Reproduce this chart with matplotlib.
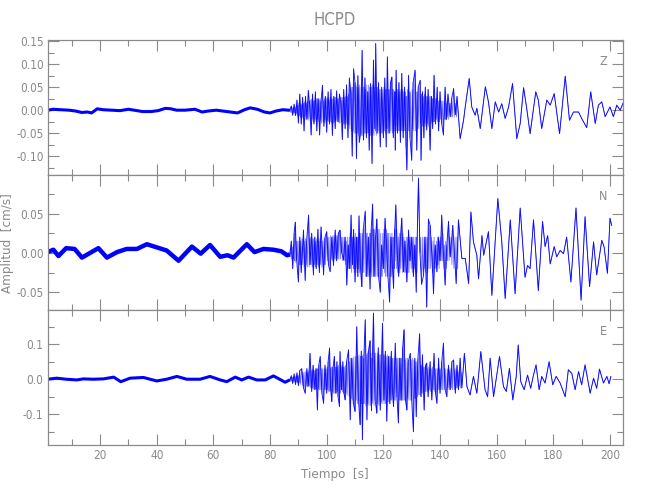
import matplotlib
matplotlib.use("Agg")
import matplotlib.pyplot as plt
from matplotlib.ticker import MultipleLocator, FormatStrFormatter
import numpy as np

# ---------------- data ----------------
title = "HCPD"
components = ["Z", "N", "E"]
x_ticks = [20, 40, 60, 80, 100, 120, 140, 160, 180, 200]

# quiet (pre-event) part: slow drift of the noise band
z_quiet_t = [1.5, 3.5, 6.0, 9.0, 11.5, 13.5, 15.5, 17.0, 19.0, 21.0, 24.0, 27.0, 30.0, 32.0, 35.0,
             38.0, 40.5, 43.0, 45.0, 47.0, 50.0, 53.5, 56.0, 58.0, 61.0, 63.5, 66.0, 68.5, 71.0,
             73.0, 75.5, 78.0, 80.0, 82.0, 84.5, 86.5]
z_quiet_v = [0.000, 0.002, 0.001, 0.000, -0.002, -0.005, -0.004, -0.006, 0.003, 0.001, 0.000, -0.001,
             0.002, 0.000, -0.003, -0.003, -0.001, 0.004, 0.003, 0.000, 0.000, 0.002, -0.004, -0.002,
             0.000, -0.002, -0.004, -0.006, 0.001, 0.005, 0.002, -0.004, -0.006, -0.002, 0.001, 0.000]

n_quiet_t = [1.5, 3.5, 5.3, 8.0, 11.0, 13.6, 16.0, 19.4, 22.4, 26.0, 29.4, 33.0, 36.5, 40.0, 43.5,
             47.7, 52.4, 55.5, 58.8, 62.4, 65.0, 67.1, 71.8, 74.5, 77.7, 81.2, 84.0, 86.0]
n_quiet_v = [0.001, 0.004, -0.004, 0.006, 0.005, -0.006, -0.001, 0.006, -0.006, 0.001, 0.005, 0.005,
             0.011, 0.007, 0.003, -0.010, 0.008, -0.001, 0.010, -0.005, -0.003, -0.006, 0.011, 0.001,
             0.005, 0.004, 0.002, -0.003]

e_quiet_t = [1.5, 4.7, 8.0, 11.8, 14.1, 17.6, 21.2, 24.8, 27.3, 30.6, 35.3, 40.0, 43.5, 47.1, 50.6,
             55.3, 58.8, 62.4, 64.7, 67.7, 70.0, 72.4, 75.3, 78.3, 81.2, 85.3]
e_quiet_v = [0.000, 0.003, 0.000, -0.002, 0.001, 0.000, 0.001, 0.006, -0.007, 0.003, 0.005, -0.005,
             0.000, 0.008, 0.000, 0.000, 0.008, -0.002, -0.007, 0.006, -0.002, 0.006, -0.002, -0.002,
             0.0095, -0.0085]

# strong-motion part: successive peaks and troughs
z_t = [87.0, 87.5, 88.0, 88.5, 89.0, 89.5, 90.0, 90.5, 91.0, 91.5, 92.0, 92.5, 93.0, 93.5, 94.0, 94.5,
       95.0, 95.5, 96.0, 96.5, 97.0, 97.5, 98.0, 98.5, 99.0, 99.5, 100.0, 100.5, 101.0, 101.5, 102.0,
       102.5, 103.0, 103.5, 104.0, 104.5, 105.0, 105.5, 106.0, 106.5, 107.0, 107.5, 108.0, 108.5,
       109.0, 109.5, 110.0, 110.5, 111.0, 111.5, 112.0, 112.5, 113.0, 113.5, 114.0, 114.5, 115.0,
       115.5, 116.0, 116.5, 117.0, 117.3, 117.8, 118.3, 118.9, 119.4, 120.0, 120.5, 121.0, 121.4,
       122.0, 122.5, 123.0, 123.5, 124.0, 124.2, 124.5, 125.0, 125.5, 126.0, 126.5, 127.0, 127.5,
       128.0, 128.3, 128.9, 129.4, 130.0, 130.5, 131.2, 131.8, 132.3, 133.0, 133.3, 133.8, 134.3,
       134.8, 135.3, 135.8, 136.5, 137.0, 137.4, 137.9, 138.4, 139.0, 139.5, 140.0, 140.6, 141.2,
       141.8, 142.3, 142.8, 143.6, 144.1, 144.8, 145.4, 146.0, 147.1, 148.3, 148.9, 150.3, 151.2,
       152.4, 153.0, 154.2, 156.0, 157.1, 158.3, 159.5, 160.7, 161.8, 163.0, 164.2, 165.6, 167.1,
       168.3, 169.5, 170.6, 171.8, 173.8, 174.7, 175.9, 177.7, 178.9, 180.3, 182.2, 184.2, 185.7,
       187.1, 188.9, 190.0, 191.8, 193.2, 194.8, 195.9, 197.1, 198.3, 200.0, 201.2, 202.4, 203.6,
       204.8]
z_v = [0.000, 0.009, -0.011, 0.013, -0.012, 0.022, -0.028, 0.035, -0.030, 0.028, -0.045, 0.030,
       -0.020, 0.043, 0.010, -0.054, 0.035, -0.030, 0.040, -0.045, 0.025, -0.054, 0.020, 0.054,
       -0.035, 0.030, -0.048, 0.040, -0.030, 0.045, -0.055, 0.030, -0.040, 0.042, -0.025, 0.035,
       0.020, -0.064, 0.045, -0.040, 0.055, -0.060, 0.070, 0.040, -0.100, 0.090, 0.060, -0.105,
       0.075, -0.070, -0.050, 0.130, -0.065, 0.070, -0.060, 0.040, -0.087, 0.058, -0.116, 0.109,
       -0.040, 0.145, -0.050, 0.060, -0.080, 0.050, -0.060, 0.070, -0.080, 0.116, -0.050, 0.060,
       0.072, -0.060, 0.040, -0.087, 0.087, -0.050, 0.060, -0.070, 0.080, -0.060, 0.050, -0.080,
       -0.130, 0.076, -0.060, -0.109, 0.060, 0.087, -0.087, 0.050, 0.065, -0.109, 0.040, -0.060,
       0.050, -0.043, 0.045, -0.087, 0.030, -0.040, 0.076, -0.030, 0.050, -0.045, 0.040, -0.030,
       -0.054, 0.050, -0.020, 0.035, -0.014, 0.025, 0.047, -0.010, 0.030, -0.062, -0.022, 0.007,
       0.069, 0.007, -0.011, 0.004, -0.040, 0.051, 0.018, -0.040, 0.018, -0.004, 0.014, -0.018,
       0.007, 0.058, -0.062, -0.029, 0.049, 0.004, -0.051, 0.040, 0.022, -0.040, 0.022, 0.011,
       0.036, -0.051, 0.074, -0.022, -0.004, -0.004, -0.018, -0.038, 0.040, -0.029, 0.011, 0.018,
       -0.014, 0.007, -0.014, 0.011, 0.000, 0.018]

# smaller wiggles that fill the strong-motion band (time, value)
z_fill = [(87.17, -0.005), (87.33, 0.004), (87.67, -0.006), (87.83, 0.005), (88.17, 0.006),
          (88.33, -0.005), (88.67, -0.007), (88.83, 0.006), (89.17, 0.008), (89.33, -0.008),
          (89.67, -0.012), (89.83, 0.010), (90.17, 0.015), (90.33, -0.012), (90.67, -0.015),
          (90.83, 0.014), (91.17, 0.012), (91.33, -0.016), (91.67, -0.018), (91.83, 0.015),
          (92.17, 0.018), (92.33, -0.014), (92.67, -0.020), (92.83, 0.016), (93.17, 0.020),
          (93.33, -0.018), (93.67, -0.022), (93.83, 0.020), (94.17, -0.018), (94.33, 0.022),
          (94.67, 0.024), (94.83, -0.020), (95.17, -0.025), (95.33, 0.020), (95.67, 0.022),
          (95.83, -0.025), (96.17, -0.020), (96.33, 0.025), (96.67, 0.025), (96.83, -0.020),
          (97.17, -0.025), (97.33, 0.022), (97.67, 0.025), (97.83, -0.022), (98.17, -0.028),
          (98.33, 0.022), (98.67, -0.025), (98.83, 0.020), (99.17, 0.025), (99.33, -0.028),
          (99.67, -0.022), (99.83, 0.025), (100.17, 0.028), (100.33, -0.022), (100.67, -0.025),
          (100.83, 0.022), (101.17, 0.028), (101.33, -0.025), (101.67, -0.028), (101.83, 0.025),
          (102.17, 0.025), (102.33, -0.028), (102.67, -0.025), (102.83, 0.028), (103.17, 0.028),
          (103.33, -0.022), (103.67, -0.025), (103.83, 0.025), (104.17, 0.025), (104.33, -0.028),
          (104.67, -0.028), (104.83, 0.022), (105.17, -0.025), (105.33, 0.028), (105.67, 0.028),
          (105.83, -0.030), (106.17, -0.030), (106.33, 0.028), (106.67, 0.030), (106.83, -0.028),
          (107.17, -0.032), (107.33, 0.030), (107.67, 0.035), (107.83, -0.032), (108.17, -0.040),
          (108.33, 0.045), (108.67, -0.045), (108.83, 0.050), (109.17, 0.050), (109.33, -0.045),
          (109.67, -0.050), (109.83, 0.045), (110.17, -0.050), (110.33, 0.055), (110.67, 0.050),
          (110.83, -0.050), (111.17, -0.055), (111.33, 0.050), (111.67, 0.055), (111.83, -0.045),
          (112.17, 0.050), (112.33, -0.055), (112.67, -0.055), (112.83, 0.050), (113.17, 0.050),
          (113.33, -0.050), (113.67, -0.050), (113.83, 0.045), (114.17, 0.055), (114.33, -0.050),
          (114.67, -0.050), (114.83, 0.055), (115.17, 0.050), (115.33, -0.055), (115.67, -0.055),
          (115.83, 0.050), (116.17, 0.055), (116.33, -0.050), (116.67, -0.055), (116.83, 0.050),
          (117.10, 0.040), (117.20, -0.045), (117.47, -0.055), (117.63, 0.050), (117.97, 0.050),
          (118.13, -0.045), (118.50, -0.050), (118.70, 0.045), (119.07, 0.045), (119.23, -0.050),
          (119.60, -0.050), (119.80, 0.045), (120.17, 0.050), (120.33, -0.045), (120.67, -0.050),
          (120.83, 0.045), (121.13, 0.045), (121.27, -0.040), (121.60, -0.050), (121.80, 0.045),
          (122.17, 0.045), (122.33, -0.050), (122.67, -0.045), (122.83, 0.040), (123.17, -0.050),
          (123.33, 0.045), (123.67, 0.045), (123.83, -0.045), (124.07, -0.030), (124.13, 0.030),
          (124.30, 0.040), (124.40, -0.035), (124.67, -0.045), (124.83, 0.045), (125.17, 0.045),
          (125.33, -0.045), (125.67, -0.045), (125.83, 0.040), (126.17, 0.045), (126.33, -0.045),
          (126.67, -0.045), (126.83, 0.045), (127.17, 0.040), (127.33, -0.045), (127.67, -0.045),
          (127.83, 0.040), (128.10, 0.030), (128.20, -0.040), (128.50, 0.045), (128.70, -0.045),
          (129.07, -0.045), (129.23, 0.040), (129.60, 0.040), (129.80, -0.045), (130.17, 0.045),
          (130.33, -0.040), (130.73, -0.045), (130.97, 0.040), (131.40, -0.045), (131.60, 0.040),
          (131.97, 0.040), (132.13, -0.040), (132.53, -0.040), (132.77, 0.035), (133.10, -0.030),
          (133.20, 0.030), (133.47, 0.035), (133.63, -0.035), (133.97, -0.035), (134.13, 0.030),
          (134.47, 0.035), (134.63, -0.030), (134.97, -0.035), (135.13, 0.030), (135.47, 0.030),
          (135.63, -0.030), (136.03, -0.035), (136.27, 0.030), (136.67, 0.030), (136.83, -0.030),
          (137.13, -0.025), (137.27, 0.025), (137.57, 0.025), (137.73, -0.025), (138.07, -0.025),
          (138.23, 0.025), (138.60, 0.025), (138.80, -0.020), (139.17, -0.025), (139.33, 0.020),
          (139.67, 0.020), (139.83, -0.025), (140.20, -0.020), (140.40, 0.020), (140.80, 0.020),
          (141.00, -0.020), (141.40, 0.020), (141.60, -0.020), (141.97, -0.020), (142.13, 0.015),
          (142.47, 0.020), (142.63, -0.015), (143.07, -0.020), (143.33, 0.015), (143.77, 0.015),
          (143.93, -0.015), (144.33, -0.015), (144.57, 0.020), (145.00, -0.015), (145.20, 0.015),
          (145.60, 0.015), (145.80, -0.015)]

n_t = [87.0, 87.5, 88.0, 88.5, 88.9, 89.4, 90.0, 90.5, 91.0, 91.8, 92.4, 92.9, 93.6, 94.1, 94.7,
       95.3, 95.8, 96.3, 96.9, 97.4, 98.0, 98.9, 99.4, 100.0, 100.6, 101.2, 101.8, 102.4, 103.0,
       103.5, 104.1, 104.7, 105.3, 105.9, 106.5, 107.1, 107.6, 108.1, 108.6, 109.1, 109.5, 110.0,
       110.5, 111.0, 111.4, 111.9, 112.4, 112.9, 113.6, 114.1, 114.7, 115.3, 115.7, 116.2, 116.7,
       117.2, 117.7, 118.3, 118.9, 119.4, 120.0, 120.6, 121.1, 121.6, 122.2, 122.7, 123.2, 123.6,
       124.0, 124.4, 124.9, 125.4, 126.0, 126.5, 127.1, 127.6, 128.3, 128.9, 129.4, 130.0, 130.6,
       131.1, 131.6, 132.0, 132.4, 132.9, 133.5, 134.2, 134.7, 135.3, 135.9, 136.5, 137.1, 137.7,
       138.3, 138.9, 139.5, 140.0, 140.6, 141.2, 141.8, 142.4, 143.0, 143.6, 144.5, 145.7, 146.5,
       147.7, 148.9, 150.1, 150.9, 151.8, 153.0, 153.6, 154.8, 155.4, 157.1, 158.3, 160.4, 161.8,
       163.0, 164.8, 166.5, 168.3, 170.0, 170.9, 171.8, 173.0, 174.7, 176.2, 177.1, 178.0, 178.9,
       180.3, 181.2, 182.4, 183.6, 184.7, 186.2, 188.0, 189.8, 191.2, 192.8, 194.2, 195.3, 197.1,
       197.9, 199.1, 200.0, 200.6]
n_v = [-0.002, 0.015, -0.020, 0.025, 0.039, -0.010, -0.037, 0.020, -0.025, 0.029, -0.035, 0.015,
       0.048, -0.015, 0.025, -0.028, 0.020, -0.020, 0.030, -0.025, 0.033, -0.028, 0.020, 0.027,
       -0.015, -0.024, 0.020, -0.016, 0.029, -0.010, 0.025, 0.029, 0.000, -0.009, 0.020, -0.041,
       0.010, -0.020, 0.048, -0.015, 0.030, -0.037, 0.020, -0.030, 0.047, -0.020, -0.043, 0.030,
       0.053, -0.030, 0.020, -0.046, 0.030, 0.062, -0.030, 0.020, 0.043, -0.030, -0.050, 0.010,
       -0.020, 0.044, 0.010, -0.030, -0.0625, 0.020, -0.020, -0.045, 0.030, 0.061, 0.000, -0.030,
       0.020, 0.044, -0.024, 0.015, -0.037, 0.029, -0.010, 0.020, -0.030, 0.010, -0.050, 0.030,
       0.095, 0.000, -0.040, -0.028, 0.020, -0.069, 0.043, 0.035, 0.000, -0.052, 0.010, -0.024,
       0.020, -0.010, 0.048, 0.000, -0.041, 0.010, 0.040, -0.005, 0.035, -0.039, 0.042, -0.007,
       -0.007, -0.039, 0.052, 0.014, -0.003, -0.033, 0.022, -0.003, 0.027, -0.054, 0.069, 0.014,
       -0.058, 0.042, -0.052, 0.057, -0.031, -0.016, -0.020, 0.042, -0.048, 0.040, 0.008, 0.022,
       -0.014, 0.008, -0.005, 0.003, -0.001, 0.020, -0.037, 0.057, -0.060, 0.046, -0.043, 0.014,
       -0.028, 0.016, 0.008, -0.026, 0.044, 0.035]

n_fill = [(87.17, 0.006), (87.33, -0.005), (87.67, -0.008), (87.83, 0.007), (88.17, 0.010),
          (88.33, -0.008), (88.63, -0.010), (88.77, 0.012), (89.07, -0.012), (89.23, 0.015),
          (89.60, 0.015), (89.80, -0.012), (90.17, 0.015), (90.33, -0.015), (90.67, -0.015),
          (90.83, 0.015), (91.27, 0.018), (91.53, -0.015), (92.00, -0.018), (92.20, 0.015),
          (92.57, 0.018), (92.73, -0.015), (93.13, -0.018), (93.37, 0.020), (93.77, -0.018),
          (93.93, 0.018), (94.30, 0.020), (94.50, -0.015), (94.90, -0.018), (95.10, 0.018),
          (95.47, 0.018), (95.63, -0.015), (95.97, -0.018), (96.13, 0.015), (96.50, 0.018),
          (96.70, -0.015), (97.07, -0.018), (97.23, 0.015), (97.60, 0.018), (97.80, -0.015),
          (98.30, -0.018), (98.60, 0.015), (99.07, 0.018), (99.23, -0.015), (99.60, -0.015),
          (99.80, 0.018), (100.20, -0.010), (100.40, 0.020), (100.80, 0.020), (101.00, -0.010),
          (101.40, 0.022), (101.60, -0.008), (102.00, -0.010), (102.20, 0.022), (102.60, 0.022),
          (102.80, -0.008), (103.17, -0.008), (103.33, 0.022), (103.70, 0.022), (103.90, -0.008),
          (104.30, -0.008), (104.50, 0.022), (104.90, -0.008), (105.10, 0.020), (105.50, 0.020),
          (105.70, -0.010), (106.10, 0.020), (106.30, -0.010), (106.70, -0.015), (106.90, 0.015),
          (107.27, 0.020), (107.43, -0.020), (107.77, -0.020), (107.93, 0.020), (108.27, 0.025),
          (108.43, -0.020), (108.77, -0.025), (108.93, 0.020), (109.23, 0.020), (109.37, -0.020),
          (109.67, -0.025), (109.83, 0.020), (110.17, 0.025), (110.33, -0.020), (110.67, -0.025),
          (110.83, 0.020), (111.13, 0.020), (111.27, -0.020), (111.57, -0.025), (111.73, 0.025),
          (112.07, 0.025), (112.23, -0.020), (112.57, 0.025), (112.73, -0.025), (113.13, -0.025),
          (113.37, 0.025), (113.77, -0.030), (113.93, 0.025), (114.30, 0.025), (114.50, -0.030),
          (114.90, -0.030), (115.10, 0.025), (115.43, 0.025), (115.57, -0.025), (115.87, -0.030),
          (116.03, 0.030), (116.37, -0.030), (116.53, 0.030), (116.87, 0.030), (117.03, -0.030),
          (117.37, -0.030), (117.53, 0.030), (117.90, -0.030), (118.10, 0.030), (118.50, 0.030),
          (118.70, -0.030), (119.07, 0.025), (119.23, -0.030), (119.60, -0.030), (119.80, 0.025),
          (120.20, 0.030), (120.40, -0.025), (120.77, -0.030), (120.93, 0.030), (121.27, -0.030),
          (121.43, 0.025), (121.80, 0.025), (122.00, -0.030), (122.37, 0.025), (122.53, -0.030),
          (122.87, -0.030), (123.03, 0.025), (123.33, 0.020), (123.47, -0.025), (123.73, 0.020),
          (123.87, -0.020), (124.13, -0.010), (124.27, 0.030), (124.57, -0.020), (124.73, 0.030),
          (125.07, -0.025), (125.23, 0.020), (125.60, 0.025), (125.80, -0.025), (126.17, -0.020),
          (126.33, 0.025), (126.70, -0.025), (126.90, 0.025), (127.27, 0.020), (127.43, -0.025),
          (127.83, -0.025), (128.07, 0.020), (128.50, 0.020), (128.70, -0.025), (129.07, -0.025),
          (129.23, 0.020), (129.60, 0.020), (129.80, -0.020), (130.20, -0.025), (130.40, 0.020),
          (130.77, 0.020), (130.93, -0.020), (131.27, -0.025), (131.43, 0.020), (131.73, 0.020),
          (131.87, -0.025), (133.10, 0.020), (133.30, -0.020), (133.73, 0.020), (133.97, -0.020),
          (134.37, 0.020), (134.53, -0.020), (134.90, -0.025), (135.10, 0.020), (135.50, 0.020),
          (135.70, -0.025), (136.10, -0.020), (136.30, 0.025), (136.70, -0.020), (136.90, 0.020),
          (137.30, -0.025), (137.50, 0.015), (137.90, 0.020), (138.10, -0.020), (138.50, -0.020),
          (138.70, 0.015), (139.10, 0.020), (139.30, -0.015), (139.67, -0.020), (139.83, 0.015),
          (140.20, 0.020), (140.40, -0.010), (140.80, -0.010), (141.00, 0.025), (141.40, -0.020),
          (141.60, 0.010), (142.00, 0.015), (142.20, -0.020), (142.60, -0.010), (142.80, 0.020),
          (143.20, -0.010), (143.40, 0.020), (143.90, 0.020), (144.20, -0.015), (144.90, -0.020),
          (145.30, 0.020), (145.97, 0.020), (146.23, -0.020)]

e_t = [87.0, 87.5, 88.0, 88.5, 89.0, 89.5, 90.0, 90.5, 91.2, 91.8, 92.4, 93.0, 93.5, 94.1, 94.7,
       95.2, 95.8, 96.2, 96.7, 97.2, 97.7, 98.3, 98.9, 99.4, 100.0, 100.5, 101.0, 101.4, 101.8,
       102.2, 102.7, 103.2, 103.6, 104.0, 104.5, 104.7, 105.2, 105.7, 106.1, 106.5, 107.0, 107.7,
       108.3, 108.8, 109.4, 110.0, 110.6, 111.2, 111.8, 112.2, 112.6, 113.1, 113.6, 114.2, 114.7,
       115.3, 115.8, 116.1, 116.5, 117.1, 117.7, 118.2, 118.9, 119.3, 119.7, 120.2, 120.7, 121.2,
       121.8, 122.3, 122.8, 123.2, 123.6, 124.2, 124.8, 125.3, 125.8, 126.3, 126.8, 127.3, 127.8,
       128.3, 128.8, 129.5, 130.0, 130.6, 131.1, 131.6, 132.2, 132.8, 133.3, 133.8, 134.4, 134.9,
       135.3, 135.8, 136.5, 137.1, 137.9, 138.4, 138.9, 139.5, 140.0, 140.6, 141.2, 141.8, 142.4,
       143.0, 143.6, 144.2, 144.8, 145.4, 146.0, 146.5, 147.1, 147.7, 148.6, 149.5, 150.6, 151.8,
       153.0, 154.4, 155.9, 156.8, 157.7, 158.9, 161.0, 162.4, 163.4, 164.5, 165.7, 166.9, 167.6,
       168.5, 169.7, 170.9, 172.0, 173.0, 173.9, 175.0, 175.9, 177.1, 178.5, 179.8, 181.0, 182.4,
       184.2, 185.3, 186.5, 187.7, 188.9, 190.0, 191.2, 193.0, 194.2, 195.3, 196.3, 197.7, 198.9,
       199.7, 200.3]
e_v = [-0.002, 0.010, -0.012, 0.015, -0.015, 0.018, -0.018, 0.025, 0.030, -0.025, -0.040, 0.030,
       -0.020, 0.074, -0.035, 0.040, -0.030, 0.030, -0.088, 0.040, 0.065, -0.040, -0.069, 0.040,
       -0.040, 0.050, 0.089, -0.030, -0.064, 0.030, 0.065, -0.040, 0.050, -0.050, -0.078, 0.079,
       -0.030, 0.050, -0.040, -0.059, 0.050, 0.084, -0.116, 0.060, -0.070, -0.092, 0.150, -0.060,
       -0.130, 0.080, -0.173, 0.060, 0.170, -0.116, 0.080, 0.110, -0.090, 0.060, 0.189, -0.060,
       -0.097, 0.090, -0.088, 0.050, 0.160, -0.060, 0.080, -0.120, 0.065, -0.070, 0.080, -0.040,
       -0.078, 0.103, -0.050, -0.125, 0.060, -0.060, 0.090, 0.141, -0.060, -0.088, 0.050, 0.074,
       -0.060, -0.150, 0.060, -0.107, 0.060, 0.130, -0.050, 0.070, -0.088, 0.040, 0.046, -0.050,
       0.050, -0.059, 0.074, -0.040, -0.069, 0.060, -0.040, 0.050, 0.103, -0.030, -0.050, 0.040,
       -0.030, 0.050, 0.055, -0.040, 0.040, -0.030, 0.060, -0.025, 0.074, -0.021, -0.045, 0.008,
       -0.040, 0.079, -0.030, -0.050, 0.060, -0.050, 0.065, -0.021, -0.035, 0.031, -0.059, 0.008,
       0.098, -0.007, -0.030, 0.012, -0.026, 0.012, 0.041, -0.030, 0.008, -0.011, 0.050, -0.016,
       0.008, -0.011, -0.050, 0.027, 0.017, -0.030, 0.022, -0.016, 0.041, -0.040, 0.003, -0.026,
       0.029, -0.011, 0.008, -0.013, 0.008]

e_fill = [(87.17, 0.005), (87.33, -0.005), (87.67, -0.006), (87.83, 0.006), (88.17, 0.007),
          (88.33, -0.006), (88.67, -0.008), (88.83, 0.007), (89.17, 0.009), (89.33, -0.008),
          (89.67, -0.010), (89.83, 0.009), (90.17, 0.012), (90.33, -0.010), (90.73, -0.015),
          (90.97, 0.015), (91.40, -0.018), (91.60, 0.018), (92.00, 0.020), (92.20, -0.018),
          (92.60, 0.022), (92.80, -0.020), (93.17, -0.022), (93.33, 0.020), (93.70, 0.025),
          (93.90, -0.020), (94.30, -0.025), (94.50, 0.025), (94.87, 0.028), (95.03, -0.025),
          (95.40, -0.028), (95.60, 0.025), (95.93, 0.025), (96.07, -0.028), (96.37, -0.028),
          (96.53, 0.030), (96.87, 0.030), (97.03, -0.028), (97.37, -0.030), (97.53, 0.028),
          (97.90, -0.030), (98.10, 0.030), (98.50, 0.030), (98.70, -0.030), (99.07, 0.030),
          (99.23, -0.030), (99.60, -0.030), (99.80, 0.030), (100.17, 0.035), (100.33, -0.030),
          (100.67, -0.035), (100.83, 0.035), (101.13, -0.035), (101.27, 0.030), (101.53, 0.035),
          (101.67, -0.035), (101.93, 0.035), (102.07, -0.035), (102.37, -0.040), (102.53, 0.035),
          (102.87, -0.040), (103.03, 0.035), (103.33, 0.035), (103.47, -0.040), (103.73, -0.035),
          (103.87, 0.035), (104.17, 0.040), (104.33, -0.035), (104.87, -0.040), (105.03, 0.035),
          (105.37, 0.040), (105.53, -0.035), (105.83, -0.040), (105.97, 0.035), (106.23, 0.035),
          (106.37, -0.040), (106.67, 0.040), (106.83, -0.040), (107.23, -0.045), (107.47, 0.045),
          (107.90, -0.050), (108.10, 0.050), (108.47, 0.060), (108.63, -0.055), (109.00, -0.060),
          (109.20, 0.060), (109.60, 0.065), (109.80, -0.060), (110.20, 0.065), (110.40, -0.060),
          (110.80, -0.070), (111.00, 0.065), (111.40, 0.070), (111.60, -0.065), (111.93, 0.065),
          (112.07, -0.070), (112.33, -0.070), (112.47, 0.065), (112.77, 0.070), (112.93, -0.070),
          (113.27, -0.070), (113.43, 0.070), (113.80, -0.075), (114.00, 0.070), (114.37, 0.075),
          (114.53, -0.070), (114.90, -0.075), (115.10, 0.070), (115.47, -0.075), (115.63, 0.075),
          (115.90, 0.060), (116.00, -0.060), (116.23, -0.070), (116.37, 0.070), (116.70, -0.075),
          (116.90, 0.075), (117.30, 0.075), (117.50, -0.070), (117.87, 0.075), (118.03, -0.070),
          (118.43, -0.075), (118.67, 0.070), (119.03, 0.070), (119.17, -0.070), (119.43, -0.065),
          (119.57, 0.070), (119.87, -0.070), (120.03, 0.070), (120.37, 0.070), (120.53, -0.070),
          (120.87, -0.070), (121.03, 0.065), (121.40, 0.070), (121.60, -0.065), (121.97, -0.065),
          (122.13, 0.065), (122.47, 0.065), (122.63, -0.060), (122.93, -0.060), (123.07, 0.060),
          (123.33, 0.060), (123.47, -0.055), (123.80, 0.060), (124.00, -0.060), (124.40, -0.060),
          (124.60, 0.060), (124.97, 0.060), (125.13, -0.060), (125.47, 0.060), (125.63, -0.060),
          (125.97, -0.060), (126.13, 0.060), (126.47, 0.060), (126.63, -0.060), (126.97, -0.060),
          (127.13, 0.060), (127.47, -0.060), (127.63, 0.055), (127.97, 0.060), (128.13, -0.055),
          (128.47, 0.060), (128.63, -0.055), (129.03, -0.060), (129.27, 0.055), (129.67, -0.060),
          (129.83, 0.055), (130.20, 0.060), (130.40, -0.055), (130.77, 0.055), (130.93, -0.055),
          (131.27, -0.055), (131.43, 0.050), (131.80, 0.050), (132.00, -0.050), (132.40, -0.045),
          (132.60, 0.045), (132.97, -0.045), (133.13, 0.040), (133.47, 0.040), (133.63, -0.040),
          (134.00, -0.040), (134.20, 0.035), (134.57, 0.035), (134.73, -0.035), (135.03, -0.035),
          (135.17, 0.030), (135.47, -0.035), (135.63, 0.030), (136.03, 0.035), (136.27, -0.030),
          (136.70, -0.035), (136.90, 0.030), (137.37, 0.035), (137.63, -0.030), (138.07, -0.035),
          (138.23, 0.030), (138.57, 0.030), (138.73, -0.030), (139.10, 0.030), (139.30, -0.030),
          (139.67, -0.030), (139.83, 0.030), (140.20, 0.030), (140.40, -0.030), (140.80, -0.030),
          (141.00, 0.030), (141.40, -0.030), (141.60, 0.030), (142.00, 0.030), (142.20, -0.025),
          (142.60, 0.030), (142.80, -0.025), (143.20, -0.030), (143.40, 0.025), (143.80, 0.030),
          (144.00, -0.025), (144.40, -0.030), (144.60, 0.025), (145.00, -0.030), (145.20, 0.025),
          (145.60, 0.030), (145.80, -0.025), (146.17, -0.025), (146.33, 0.020), (146.70, 0.025),
          (146.90, -0.020), (147.30, -0.025), (147.50, 0.020)]

y_limits = [(-0.141, 0.152), (-0.073, 0.099), (-0.188, 0.197)]
y_major = [0.05, 0.05, 0.1]
y_minor = [0.025, 0.025, 0.05]
y_fmt = ["%.2f", "%.2f", "%.1f"]
quiet_lw = [2.2, 3.2, 2.2]

# ---------------- figure ----------------
plt.rcParams['font.family'] = ['DejaVu Sans']
plt.rcParams['font.stretch'] = 'condensed'
plt.rcParams['axes.unicode_minus'] = True
grey = '#8a8a8a'
blue = '#0000ff'

fig = plt.figure(figsize=(6.5, 5.0), dpi=100)
W, H = 650.0, 500.0
left, right = 47.7, 623.3
tops = [40.3, 175.0, 310.3]
bots = [175.0, 310.3, 445.0]

series = [(z_quiet_t, z_quiet_v, z_t, z_v, z_fill),
          (n_quiet_t, n_quiet_v, n_t, n_v, n_fill),
          (e_quiet_t, e_quiet_v, e_t, e_v, e_fill)]

axes = []
for i in range(3):
    ax = fig.add_axes([left / W, 1 - bots[i] / H, (right - left) / W, (bots[i] - tops[i]) / H])
    axes.append(ax)
    qt, qv, at, av, fill = series[i]
    t_all = np.concatenate([np.asarray(at), np.array([p[0] for p in fill])])
    v_all = np.concatenate([np.asarray(av), np.array([p[1] for p in fill])])
    order = np.argsort(t_all, kind='stable')
    ax.plot(qt + at[:1], qv + av[:1], color=blue, lw=quiet_lw[i], solid_capstyle='butt',
            solid_joinstyle='round')
    # fine texture (light) and the main peaks (darker) on top
    ax.plot(t_all[order], v_all[order], color=blue, lw=0.5, alpha=0.6)
    ax.plot(at, av, color=blue, lw=0.65, alpha=0.9)
    ax.set_xlim(1.5, 204.7)
    ax.set_ylim(*y_limits[i])
    ax.xaxis.set_major_locator(MultipleLocator(20))
    ax.xaxis.set_minor_locator(MultipleLocator(10))
    ax.yaxis.set_major_locator(MultipleLocator(y_major[i]))
    ax.yaxis.set_minor_locator(MultipleLocator(y_minor[i]))
    ax.yaxis.set_major_formatter(FormatStrFormatter(y_fmt[i]))
    ax.tick_params(which='both', direction='in', top=True, right=True, colors=grey,
                   labelcolor=grey, labelsize=8.5, width=0.8)
    ax.tick_params(which='major', length=8, pad=3)
    ax.tick_params(which='minor', length=4)
    for sp in ax.spines.values():
        sp.set_color(grey)
        sp.set_linewidth(0.9)
    if i < 2:
        ax.tick_params(labelbottom=False)
    ax.text(0.965, 0.84, components[i], transform=ax.transAxes, color=grey, fontsize=9,
            ha='center', va='center')

axes[2].set_xticks(x_ticks)
axes[2].set_xlim(1.5, 204.7)
axes[2].set_xlabel("Tiempo  [s]", color=grey, fontsize=9.5)
axes[2].xaxis.set_label_coords((335 - left) / (right - left), -(468 - 445) / (445 - 310.3))
axes[1].set_ylabel("Amplitud  [cm/s]", color=grey, fontsize=9.5)
axes[1].yaxis.set_label_coords(-(left - 14) / (right - left), 0.5)
fig.text(335 / W, 1 - 20 / H, title, color=grey, fontsize=12, ha='center', va='center')

fig.savefig("out.png", dpi=100)
